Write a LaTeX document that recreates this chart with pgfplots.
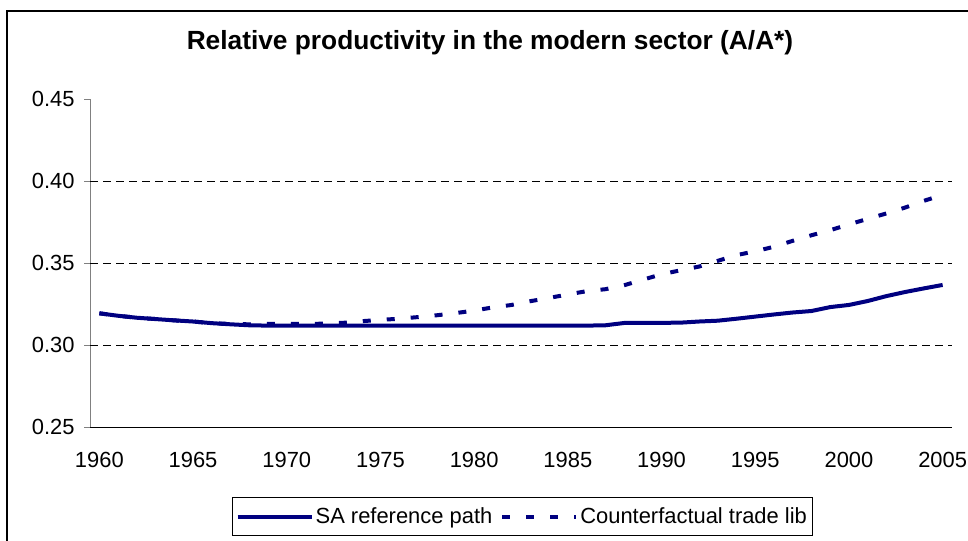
\documentclass[border=0pt]{standalone}
\usepackage{fontspec}
\setmainfont{Liberation Sans}
\usepackage{pgfplots}
\pgfplotsset{compat=1.18}
\usepackage{pgfplotstable}
\definecolor{navyline}{RGB}{0,0,128}

\pgfplotstableread{
year sa cf
1960 0.3195 0.3195
1961 0.3180 0.3180
1962 0.3168 0.3168
1963 0.3160 0.3160
1964 0.3152 0.3152
1965 0.3145 0.3145
1966 0.3135 0.3135
1967 0.3128 0.3130
1968 0.3122 0.3128
1969 0.3120 0.3130
1970 0.3120 0.3130
1971 0.3120 0.3130
1972 0.3120 0.3132
1973 0.3120 0.3137
1974 0.3120 0.3147
1975 0.3120 0.3155
1976 0.3120 0.3162
1977 0.3120 0.3172
1978 0.3120 0.3183
1979 0.3120 0.3196
1980 0.3120 0.3212
1981 0.3120 0.3231
1982 0.3120 0.3246
1983 0.3120 0.3269
1984 0.3120 0.3289
1985 0.3120 0.3310
1986 0.3120 0.3330
1987 0.3122 0.3342
1988 0.3136 0.3366
1989 0.3137 0.3400
1990 0.3137 0.3433
1991 0.3138 0.3457
1992 0.3145 0.3480
1993 0.3150 0.3515
1994 0.3162 0.3550
1995 0.3175 0.3573
1996 0.3188 0.3601
1997 0.3200 0.3637
1998 0.3209 0.3671
1999 0.3233 0.3702
2000 0.3246 0.3737
2001 0.3270 0.3771
2002 0.3300 0.3804
2003 0.3325 0.3840
2004 0.3347 0.3881
2005 0.3368 0.3917
}\datatable

\begin{document}
\begin{tikzpicture}
\useasboundingbox (0bp,0bp) rectangle (968bp,541bp);
\draw[line width=1.5bp] (7bp,-20bp) -- (7bp,530bp) -- (990bp,530bp);
\node[font=\fontsize{26.4}{30}\selectfont\bfseries] at (490bp,498bp) {Relative productivity in the modern sector (A/A*)};
\begin{axis}[
  at={(90bp,113.7bp)}, anchor=south west,
  scale only axis, width=862bp, height=328bp,
  xmin=1960, xmax=2006, ymin=0.25, ymax=0.45,
  axis x line=bottom, axis y line=left,
  axis line style={-},
  x axis line style={black, line width=1bp},
  y axis line style={gray, line width=1bp},
  xtick={1960.5,1965.5,1970.5,1975.5,1980.5,1985.5,1990.5,1995.5,2000.5,2005.5},
  xticklabels={1960,1965,1970,1975,1980,1985,1990,1995,2000,2005},
  minor xtick={1960,1965,1970,1975,1980,1985,1990,1995,2000,2005},
  xtick style={draw=none},
  minor x tick style={gray, line width=1bp},
  minor tick length=6bp,
  ytick={0.25,0.3,0.35,0.4,0.45},
  yticklabels={0.25,0.30,0.35,0.40,0.45},
  ytick style={gray, line width=1bp},
  major tick length=6bp,
  tick align=outside,
  extra y ticks={0.3,0.35,0.4},
  extra y tick labels={},
  extra y tick style={grid=major, major tick length=0bp},
  major grid style={black, line width=0.8bp, dash pattern=on 8bp off 5bp},
  tick label style={font=\fontsize{22}{26}\selectfont},
  xticklabel style={yshift=-15bp},
  yticklabel style={xshift=-6bp},
  /pgf/number format/assume math mode=true,
  legend style={at={(0.5015,-0.272)}, anchor=center, legend columns=2,
    draw=black, line width=0.8bp, font=\fontsize{22}{26}\selectfont,
    /tikz/every even column/.append style={column sep=6bp},
    inner xsep=3bp, inner ysep=8bp},
  legend image code/.code={\draw[#1] (0bp,0bp) -- (74bp,0bp);},
  clip=false,
]
\addplot[navyline, line width=4bp, line join=round] table[x expr=\thisrow{year}+0.5, y=sa] {\datatable};
\addlegendentry{SA reference path}
\addplot[navyline, line width=4bp, dash pattern=on 8bp off 16bp] table[x expr=\thisrow{year}+0.5, y=cf] {\datatable};
\addlegendentry{Counterfactual trade lib}
\end{axis}
\end{tikzpicture}
\end{document}
